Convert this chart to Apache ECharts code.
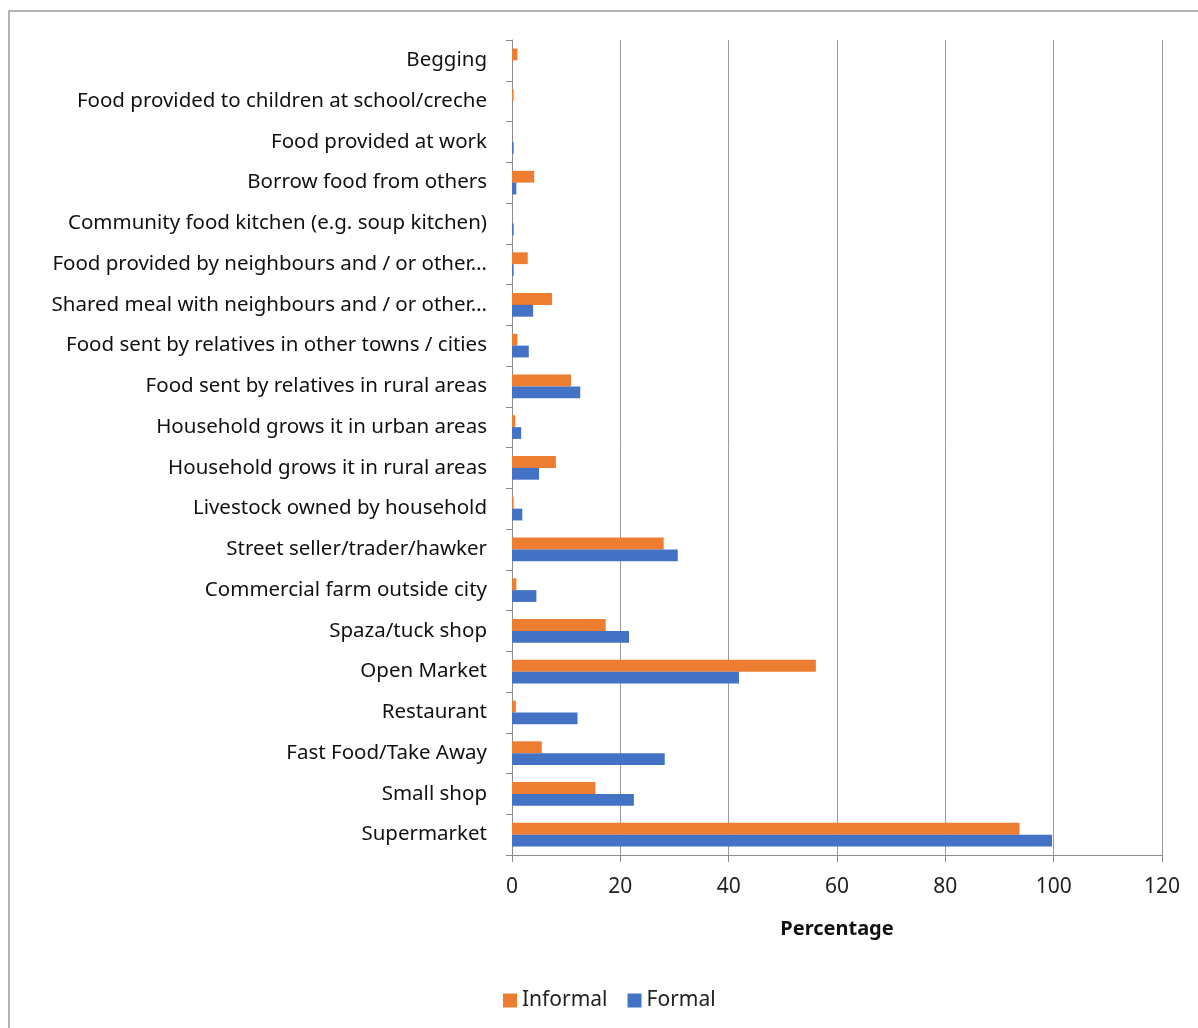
<!DOCTYPE html>
<html>
<head>
<meta charset="utf-8">
<script src="https://cdn.jsdelivr.net/npm/echarts@6/dist/echarts.min.js"></script>
<style>
  html, body { margin: 0; padding: 0; background: #fff; }
  #chart { width: 1198px; height: 1028px; }
</style>
</head>
<body>
<div id="chart"></div>
<script>
// Food sources, listed bottom to top along the category axis
const categories = [
  'Supermarket',
  'Small shop',
  'Fast Food/Take Away',
  'Restaurant',
  'Open Market',
  'Spaza/tuck shop',
  'Commercial farm outside city',
  'Street seller/trader/hawker',
  'Livestock owned by household',
  'Household grows it in rural areas',
  'Household grows it in urban areas',
  'Food sent by relatives in rural areas',
  'Food sent by relatives in other towns / cities',
  'Shared meal with neighbours and / or other…',
  'Food provided by neighbours and / or other…',
  'Community food kitchen (e.g. soup kitchen)',
  'Borrow food from others',
  'Food provided at work',
  'Food provided to children at school/creche',
  'Begging'
];

const informal = [93.7, 15.4, 5.5, 0.7, 56.1, 17.3, 0.8, 28.0, 0.3, 8.1, 0.6, 10.9, 1.0, 7.4, 2.9, 0, 4.1, 0, 0.3, 1.0];
const formal   = [99.7, 22.5, 28.2, 12.1, 41.9, 21.6, 4.5, 30.6, 1.9, 5.0, 1.7, 12.6, 3.1, 3.9, 0.3, 0.3, 0.8, 0.3, 0, 0];

const xTicks = { min: 0, max: 120, interval: 20 };

const chart = echarts.init(document.getElementById('chart'));
const font = '"Noto Sans", "Open Sans", sans-serif';

chart.setOption({
  animation: false,
  textStyle: { fontFamily: font },
  graphic: [{
    type: 'rect',
    shape: { x: 9, y: 11, width: 1400, height: 1200 },
    style: { fill: 'none', stroke: '#9a9a9a', lineWidth: 1.5 },
    silent: true
  }],
  grid: { left: 512, right: 36, top: 40, bottom: 173 },
  legend: {
    data: ['Informal', 'Formal'],
    left: 498,
    top: 985,
    itemWidth: 14,
    itemHeight: 14,
    itemGap: 20,
    icon: 'rect',
    textStyle: { fontSize: 21, color: '#222', fontFamily: font }
  },
  xAxis: {
    type: 'value',
    min: xTicks.min,
    max: xTicks.max,
    interval: xTicks.interval,
    name: 'Percentage',
    nameLocation: 'middle',
    nameGap: 64,
    nameTextStyle: { fontSize: 20, fontWeight: 'bold', color: '#111', fontFamily: font },
    axisLine: { show: true, lineStyle: { color: '#8c8c8c', width: 1 } },
    axisTick: { show: true, length: 7, lineStyle: { color: '#8c8c8c' } },
    axisLabel: { fontSize: 21, color: '#222', margin: 22, fontFamily: font },
    splitLine: { show: true, lineStyle: { color: '#9a9a9a', width: 1 } }
  },
  yAxis: {
    type: 'category',
    data: categories,
    axisLine: { show: true, lineStyle: { color: '#8c8c8c', width: 1 } },
    axisTick: { show: true, length: 6, inside: false, lineStyle: { color: '#8c8c8c' } },
    axisLabel: { fontSize: 20.5, color: '#111', margin: 25, fontFamily: font, interval: 0 },
    splitLine: { show: false }
  },
  series: [
    {
      name: 'Informal',
      type: 'bar',
      data: informal,
      itemStyle: { color: '#ED7D31' },
      barGap: '0%',
      barCategoryGap: '42%'
    },
    {
      name: 'Formal',
      type: 'bar',
      data: formal,
      itemStyle: { color: '#4472C4' },
      barGap: '0%',
      barCategoryGap: '42%'
    }
  ]
});
</script>
</body>
</html>
